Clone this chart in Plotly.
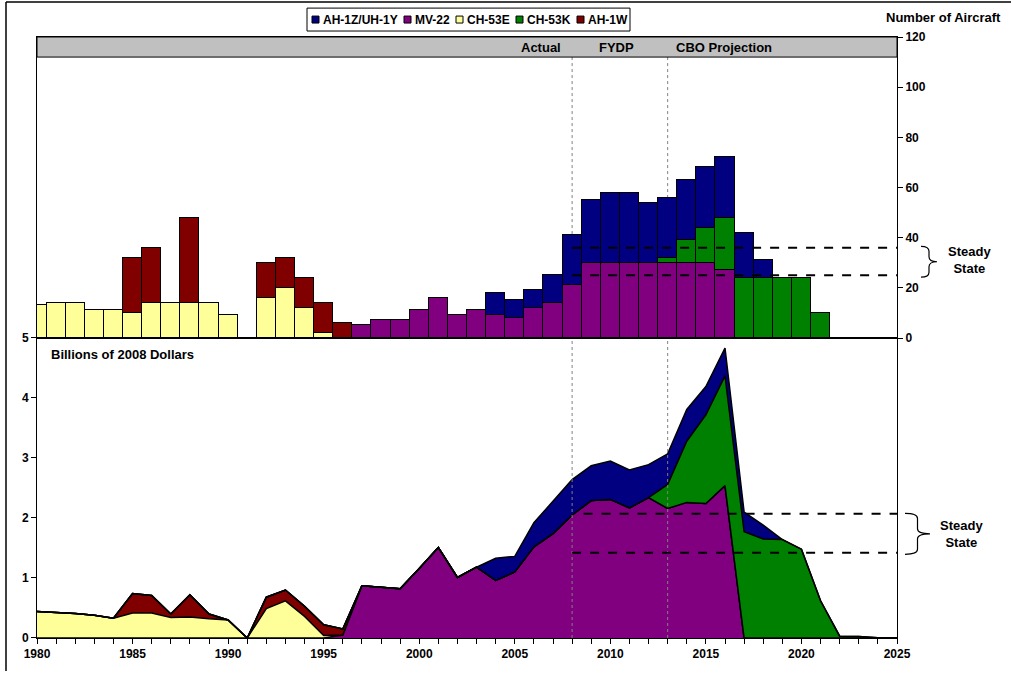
import plotly.graph_objects as go

# ---------------- data ----------------
bar_years = list(range(1980, 2022))
cost_years = list(range(1980, 2026))

# Number of aircraft purchased per year (top panel), 1980-2021
n_mv22 = [0]*17 + [5, 7, 7, 11, 16, 9, 11, 9, 8, 12, 14, 21, 30, 30, 30, 30, 30, 30, 30, 27, 0, 0, 0, 0, 0]
n_ch53e = [13, 14, 14, 11, 11, 10, 14, 14, 14, 14, 9, 0, 16, 20, 12, 2, 0] + [0]*25
n_ah1w = [0, 0, 0, 0, 0, 22, 22, 0, 34, 0, 0, 0, 14, 12, 12, 12, 6] + [0]*25
n_ch53k = [0]*33 + [2, 9, 14, 21, 24, 24, 24, 24, 10]
n_ah1z = [0]*24 + [9, 7, 7, 11, 20, 25, 28, 28, 24, 24, 24, 24, 24, 18, 7, 0, 0, 0]

# Procurement cost, billions of 2008 dollars (bottom panel), 1980-2025
c_mv22 = [0]*16 + [0.05, 0.87, 0.845, 0.82, 1.16, 1.51, 1.01, 1.18, 0.96, 1.10, 1.52, 1.74, 2.05, 2.29,
                   2.31, 2.17, 2.34, 2.16, 2.26, 2.24, 2.54, 0, 0, 0, 0, 0, 0, 0, 0, 0]
c_ch53e = [0.44, 0.43, 0.41, 0.38, 0.33, 0.415, 0.415, 0.34, 0.35, 0.32, 0.30, 0, 0.49, 0.62, 0.36, 0.04] + [0]*30
c_ah1w = [0, 0, 0, 0, 0, 0.325, 0.295, 0.06, 0.37, 0.08, 0, 0, 0.19, 0.18, 0.17, 0.18, 0.10] + [0]*29
c_ch53k = [0]*33 + [0.40, 1.02, 1.48, 1.83, 1.77, 1.65, 1.64, 1.48, 0.62, 0.03, 0.025, 0.005, 0]
c_ah1z = [0]*24 + [0.37, 0.26, 0.40, 0.54, 0.59, 0.58, 0.64, 0.63, 0.55, 0.51, 0.53, 0.47, 0.46, 0.33, 0.23] + [0]*7

series = [
    ("MV-22", n_mv22, c_mv22, "#800080"),
    ("CH-53E", n_ch53e, c_ch53e, "#FFFF99"),
    ("AH-1W", n_ah1w, c_ah1w, "#800000"),
    ("CH-53K", n_ch53k, c_ch53k, "#008000"),
    ("AH-1Z/UH-1Y", n_ah1z, c_ah1z, "#000080"),
]
legend_order = ["AH-1Z/UH-1Y", "MV-22", "CH-53E", "CH-53K", "AH-1W"]
colors = {s[0]: s[3] for s in series}

phase_lines = [2008, 2013]
phase_labels = [("Actual", 2006.35), ("FYDP", 2010.3), ("CBO Projection", 2015.95)]
steady_aircraft = [36, 25]
steady_cost = [(2.07, 2008.6), (1.42, 2008)]

FONT = "Liberation Sans, Arial, sans-serif"

# ------------- geometry helpers (layout only) -------------
L, R, T, B = 37, 897, 37, 640
def PX(px):
    return (px - L) / (R - L)
def PY(py):
    return (B - py) / (B - T)
split = PY(339)

fig = go.Figure()

for name, nvals, cvals, col in series:
    fig.add_trace(go.Bar(
        x=bar_years, y=[v if v else None for v in nvals], name=name,
        marker=dict(color=col, line=dict(color="black", width=1)),
        width=1, xaxis="x2", yaxis="y2", showlegend=False))

for name, nvals, cvals, col in series:
    fig.add_trace(go.Scatter(
        x=cost_years, y=cvals, name=name, stackgroup="cost", mode="lines",
        line=dict(color="black", width=1.5), fillcolor=col,
        xaxis="x", yaxis="y", showlegend=False))

shapes = []
annotations = []

def txt(text, x, y, size=13, xanchor="center", xref="paper", yref="paper"):
    return dict(text="<b>%s</b>" % text, x=x, y=y, xref=xref, yref=yref,
                xanchor=xanchor, yanchor="middle", showarrow=False,
                font=dict(size=size, family=FONT, color="black"))

# grey header band
shapes.append(dict(type="rect", xref="paper", yref="y2", x0=0, x1=1, y0=112, y1=120,
                   fillcolor="#C0C0C0", line=dict(color="black", width=1), layer="above"))
for lbl, xc in phase_labels:
    annotations.append(txt(lbl, xc, 116, size=13, xref="x2", yref="y2"))

# phase separators
for yr in phase_lines:
    shapes.append(dict(type="line", xref="x2", yref="y2", x0=yr, x1=yr, y0=112, y1=-3,
                       line=dict(color="#808080", width=1, dash="dot"), layer="below"))
    shapes.append(dict(type="line", xref="x", yref="y", x0=yr, x1=yr, y0=0, y1=5,
                       line=dict(color="#808080", width=1, dash="dot"), layer="above"))

# steady state dashed lines
for v in steady_aircraft:
    shapes.append(dict(type="line", xref="x2", yref="y2", x0=2008, x1=2025, y0=v, y1=v,
                       line=dict(color="black", width=2, dash="dash"), layer="above"))
for v, x0 in steady_cost:
    shapes.append(dict(type="line", xref="x", yref="y", x0=x0, x1=2025, y0=v, y1=v,
                       line=dict(color="black", width=2, dash="dash"), layer="above"))

def brace(x0, x1, ytop, ybot):
    xm = (x0 + x1) / 2
    ymid = (ytop + ybot) / 2
    r = 5
    pts = [
        "M %f,%f" % (PX(x0), PY(ytop)),
        "Q %f,%f %f,%f" % (PX(xm), PY(ytop), PX(xm), PY(ytop + r)),
        "L %f,%f" % (PX(xm), PY(ymid - r)),
        "Q %f,%f %f,%f" % (PX(xm), PY(ymid), PX(x1), PY(ymid)),
        "Q %f,%f %f,%f" % (PX(xm), PY(ymid), PX(xm), PY(ymid + r)),
        "L %f,%f" % (PX(xm), PY(ybot - r)),
        "Q %f,%f %f,%f" % (PX(xm), PY(ybot), PX(x0), PY(ybot)),
    ]
    return dict(type="path", xref="paper", yref="paper", path=" ".join(pts),
                line=dict(color="black", width=1.2))

shapes.append(brace(921, 937, 247, 278))
shapes.append(brace(905, 930, 515, 556))
annotations.append(txt("Steady<br>State", PX(969), PY(261)))
annotations.append(txt("Steady<br>State", PX(962), PY(536)))

annotations.append(txt("Number of Aircraft", PX(1003), PY(17), xanchor="right"))
annotations.append(txt("Billions of 2008 Dollars", PX(49), PY(356), xanchor="left"))

# legend box (drawn manually)
shapes.append(dict(type="rect", xref="paper", yref="paper", x0=PX(307), x1=PX(630), y0=PY(8), y1=PY(31),
                   fillcolor="white", line=dict(color="black", width=1)))
sq_x = [312, 404, 456, 516, 577]
for nm, sx in zip(legend_order, sq_x):
    shapes.append(dict(type="rect", xref="paper", yref="paper", x0=PX(sx), x1=PX(sx + 7),
                       y0=PY(16), y1=PY(23), fillcolor=colors[nm], line=dict(color="black", width=1)))
    annotations.append(txt(nm, PX(sx + 9), PY(19.5), size=12, xanchor="left"))

# outer frame (left & top)
shapes.append(dict(type="line", xref="paper", yref="paper", x0=PX(6), x1=PX(6), y0=PY(2), y1=PY(673),
                   line=dict(color="black", width=1.5)))
shapes.append(dict(type="line", xref="paper", yref="paper", x0=PX(6), x1=PX(1011), y0=PY(2), y1=PY(2),
                   line=dict(color="black", width=1.5)))

tick_font = dict(size=12, family=FONT, color="black", weight="bold")

fig.update_layout(
    width=1011, height=673,
    margin=dict(l=L, r=1011 - R, t=T, b=673 - B),
    paper_bgcolor="white", plot_bgcolor="white",
    barmode="stack", bargap=0,
    showlegend=False,
    font=dict(family=FONT, color="black"),
    xaxis=dict(domain=[0, 1], range=[1980, 2025], anchor="y",
               tickvals=cost_years, ticktext=[str(y) if y % 5 == 0 else "" for y in cost_years],
               ticks="outside", ticklen=5, tickcolor="black", tickfont=tick_font,
               showline=True, linecolor="black", linewidth=1, mirror=True,
               showgrid=False, zeroline=False),
    yaxis=dict(domain=[0, split], range=[0, 5], anchor="x", dtick=1,
               ticks="outside", ticklen=5, tickcolor="black", tickfont=tick_font,
               showline=True, linecolor="black", linewidth=1, mirror=True,
               showgrid=False, zeroline=False),
    xaxis2=dict(domain=[0, 1], range=[1980, 2025], anchor="y2", matches="x",
                showticklabels=False, ticks="",
                showline=True, linecolor="black", linewidth=1, mirror=True,
                showgrid=False, zeroline=False),
    yaxis2=dict(domain=[split, 1], range=[0, 120], anchor="x2", side="right", dtick=20,
                ticks="outside", ticklen=5, tickcolor="black", tickfont=tick_font,
                showline=True, linecolor="black", linewidth=1, mirror=True,
                showgrid=False, zeroline=False),
    shapes=shapes,
    annotations=annotations,
)

fig.write_html("out.html", config={"displayModeBar": False},
               post_script="document.body.style.margin='0px';")
